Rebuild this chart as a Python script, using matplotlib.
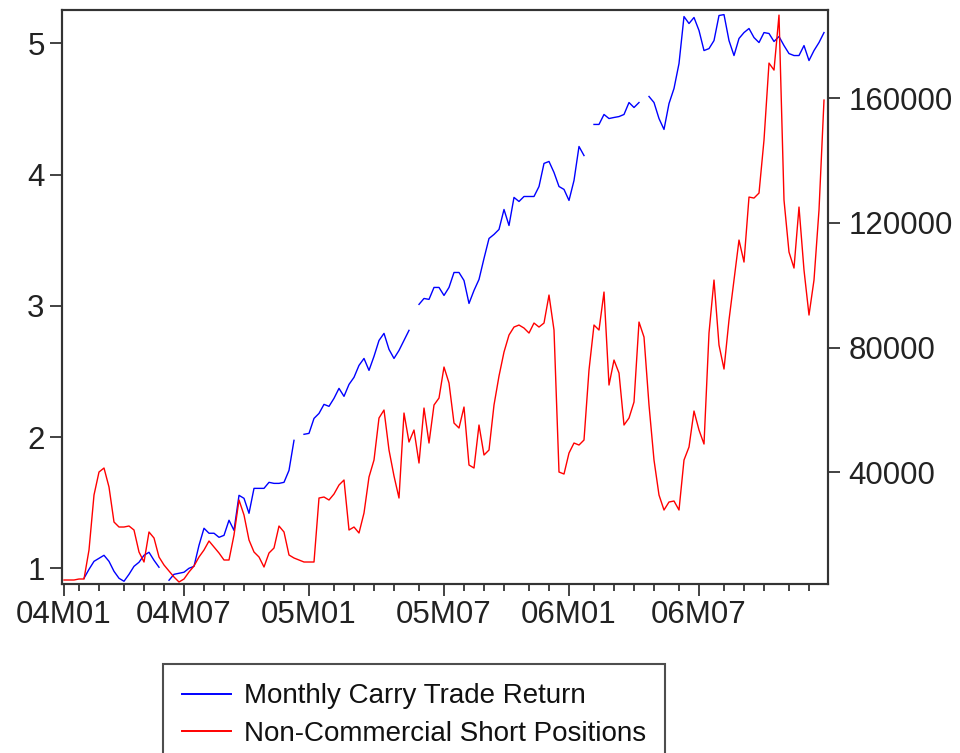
import numpy as np
import matplotlib
matplotlib.use("Agg")
import matplotlib.pyplot as plt
from matplotlib.lines import Line2D

plt.rcParams['font.family'] = ['Liberation Sans', 'DejaVu Sans']

nan = np.nan

# Weekly observations, index 0..152
carry_return = [
    nan, nan, nan, nan, 0.924, 0.992, 1.053, 1.076, 1.099, 1.053,
    0.977, 0.924, 0.901, 0.954, 1.015, 1.046, 1.099, 1.122, 1.061, 1.008,
    nan, 0.909, 0.954, 0.962, 0.970, 1.000, 1.015, 1.175, 1.305, 1.267,
    1.267, 1.236, 1.251, 1.366, 1.289, 1.556, 1.533, 1.419, 1.609, 1.609,
    1.609, 1.655, 1.647, 1.647, 1.655, 1.746, 1.975, nan, 2.021, 2.028,
    2.142, 2.180, 2.249, 2.234, 2.295, 2.371, 2.310, 2.401, 2.455, 2.546,
    2.599, 2.508, 2.615, 2.736, 2.790, 2.668, 2.599, 2.660, 2.736, 2.813,
    nan, 3.011, 3.056, 3.049, 3.140, 3.140, 3.079, 3.140, 3.254, 3.254,
    3.193, 3.018, 3.117, 3.201, 3.361, 3.513, 3.544, 3.582, 3.734, 3.612,
    3.826, 3.795, 3.833, 3.833, 3.833, 3.909, 4.085, 4.100, 4.016, 3.909,
    3.887, 3.803, 3.955, 4.214, 4.145, nan, 4.382, 4.382, 4.458, 4.427,
    4.435, 4.442, 4.458, 4.549, 4.511, 4.549, nan, 4.595, 4.549, 4.427,
    4.344, 4.541, 4.656, 4.846, 5.204, 5.151, 5.197, 5.098, 4.945, 4.960,
    5.021, 5.212, 5.219, 5.021, 4.907, 5.037, 5.082, 5.113, 5.044, 5.006,
    5.082, 5.075, 5.014, 5.052, 4.983, 4.922, 4.907, 4.907, 4.983, 4.869,
    4.945, 5.006, 5.082,
]

short_positions = [
    5454, 5454, 5454, 5774, 5774, 15078, 32722, 40100, 41383, 35288,
    24060, 22456, 22456, 22777, 21494, 14436, 11228, 20852, 18927, 12832,
    10266, 8341, 6416, 4812, 5774, 8020, 9945, 12832, 15078, 17965,
    16040, 14115, 11870, 11870, 19890, 31118, 26306, 18286, 14436, 12832,
    9624, 14115, 15719, 22777, 20852, 13474, 12511, 11870, 11228, 11228,
    11228, 31759, 32080, 31118, 33042, 35930, 37534, 21494, 22456, 20531,
    26947, 38496, 43950, 57423, 59990, 47158, 38817, 31759, 59027, 49724,
    53574, 42987, 60631, 49404, 61594, 63839, 73784, 68651, 55819, 54215,
    60952, 42346, 41383, 55178, 45554, 47158, 61594, 70897, 78596, 84050,
    86616, 87258, 86295, 84691, 87899, 86616, 87899, 96882, 85654, 40100,
    39458, 46195, 49404, 48762, 50366, 72822, 87258, 85654, 97844, 68010,
    76030, 71859, 55178, 57423, 62556, 88220, 83400, 61594, 43950, 32722,
    27910, 30476, 30797, 27910, 43950, 48120, 59669, 53574, 49083, 84691,
    101694, 80842, 73142, 88862, 101694, 114526, 107468, 128320, 127999, 129603,
    146606, 171307, 169062, 186706, 127358, 110676, 105543, 125112, 104901, 90466,
    101694, 124150, 159438,
]

major_tick_pos = [0, 24, 49, 76, 101, 127]
major_tick_labels = ["04M01", "04M07", "05M01", "05M07", "06M01", "06M07"]
minor_tick_pos = [3, 7, 12, 16, 20, 28, 32, 36, 40, 44, 54, 58, 62, 66, 71,
                  80, 84, 88, 93, 97, 106, 110, 114, 118, 123, 132, 136, 140,
                  145, 149]

series_labels = ["Monthly Carry Trade Return", "Non-Commercial Short Positions"]
left_ticks = [1, 2, 3, 4, 5]
right_ticks = [40000, 80000, 120000, 160000]

x = np.arange(len(carry_return))

fig = plt.figure(figsize=(9.6, 7.53), dpi=100)
ax = fig.add_axes([62/960, 1 - 584.3/753, (828 - 62)/960, (584.3 - 10)/753])
ax2 = ax.twinx()

ax.plot(x, carry_return, color=(0, 0, 1), lw=1.0)
ax2.plot(x, short_positions, color=(1, 0, 0), lw=1.0)

ax.set_xlim(-0.4, 152.8)
ax.set_ylim(0.878, 5.254)
ax2.set_ylim(4075, 188340)

ax.set_xticks(major_tick_pos)
ax.set_xticklabels(major_tick_labels)
ax.set_xticks(minor_tick_pos, minor=True)
ax.set_yticks(left_ticks)
ax.set_yticklabels([str(v) for v in left_ticks])
ax2.set_yticks(right_ticks)
ax2.set_yticklabels([str(v) for v in right_ticks])

tick_col = '#222222'
ax.tick_params(axis='x', which='major', direction='out', length=8.5, width=1.2,
               labelsize=22.5, pad=3, colors=tick_col)
ax.tick_params(axis='x', which='minor', direction='out', length=5, width=1.2,
               colors=tick_col)
ax.tick_params(axis='y', which='major', direction='out', length=8.5, width=1.2,
               labelsize=22.5, pad=4, colors=tick_col)
ax2.tick_params(axis='y', which='major', direction='out', length=8.5, width=1.2,
                labelsize=22.5, pad=6, colors=tick_col)

for a in (ax, ax2):
    for s in a.spines.values():
        s.set_linewidth(1.5)
        s.set_color('#333333')

handles = [Line2D([0], [0], color=(0, 0, 1), lw=1.4),
           Line2D([0], [0], color=(1, 0, 0), lw=1.4)]
leg = fig.legend(handles, series_labels, loc='upper left',
                 bbox_to_anchor=(163/960, 1 - 664/753),
                 bbox_transform=fig.transFigure,
                 frameon=True, fancybox=False, fontsize=20,
                 handlelength=1.75, handletextpad=0.45, borderpad=0.7,
                 labelspacing=0.42, borderaxespad=0)
leg.get_frame().set_edgecolor('#222222')
leg.get_frame().set_linewidth(1.5)
for t in leg.get_texts():
    t.set_color('#111111')

fig.savefig("out.png", dpi=100)
